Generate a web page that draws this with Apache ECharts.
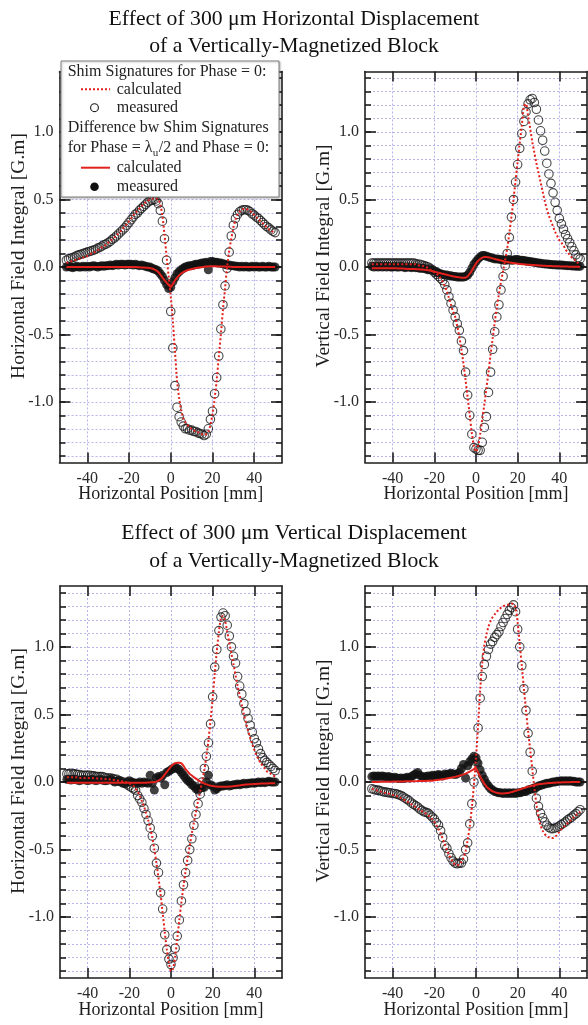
<!DOCTYPE html>
<html><head><meta charset="utf-8">
<script src="https://cdn.jsdelivr.net/npm/echarts@6.0.0/dist/echarts.min.js"></script>
<style>html,body{margin:0;padding:0;background:#fff}#c{width:588px;height:1025px}</style>
</head><body><div id="c"></div><script>
// ---------------- DATA ----------------
const POS = [-50,-49,-48,-47,-46,-45,-44,-43,-42,-41,
 -40,-39,-38,-37,-36,-35,-34,-33,-32,-31,
 -30,-29,-28,-27,-26,-25,-24,-23,-22,-21,
 -20,-19,-18,-17,-16,-15,-14,-13,-12,-11,
 -10,-9,-8,-7,-6,-5,-4,-3,-2,-1,
 0,1,2,3,4,5,6,7,8,9,
 10,11,12,13,14,15,16,17,18,19,
 20,21,22,23,24,25,26,27,28,29,
 30,31,32,33,34,35,36,37,38,39,
 40,41,42,43,44,45,46,47,48,49,50];

const X_TICKS = [-40,-20,0,20,40];
const Y_LABELS = [-1.0,-0.5,0.0,0.5,1.0];
const Y_MINOR = [-1.4,-1.3,-1.2,-1.1,-1.0,-0.9,-0.8,-0.7,-0.6,-0.5,-0.4,-0.3,-0.2,-0.1,0,
 0.1,0.2,0.3,0.4,0.5,0.6,0.7,0.8,0.9,1.0,1.1,1.2,1.3,1.4];

const TITLE_TOP = ['Effect of 300 \u03bcm Horizontal Displacement','of a Vertically-Magnetized Block'];
const TITLE_BOTTOM = ['Effect of 300 \u03bcm Vertical Displacement','of a Vertically-Magnetized Block'];
const X_NAME = 'Horizontal Position [mm]';
const Y_NAMES = ['Horizontal Field Integral [G.m]','Vertical Field Integral [G.m]','Horizontal Field Integral [G.m]','Vertical Field Integral [G.m]'];

// Panel 1: horizontal displacement, horizontal field integral
const P1_CALC0 = [0.03,0.035,0.04,0.045,0.05,0.055,0.06,0.065,0.07,0.075,
 0.08,0.09,0.10,0.105,0.115,0.125,0.135,0.145,0.155,0.165,
 0.18,0.19,0.205,0.22,0.235,0.25,0.265,0.285,0.30,0.32,
 0.34,0.36,0.38,0.40,0.415,0.435,0.45,0.465,0.48,0.49,
 0.50,0.505,0.51,0.51,0.50,0.46,0.38,0.24,0.08,-0.07,
 -0.22,-0.40,-0.62,-0.84,-0.97,-1.06,-1.12,-1.15,-1.17,-1.19,
 -1.20,-1.21,-1.22,-1.225,-1.23,-1.24,-1.245,-1.24,-1.22,-1.17,
 -1.09,-0.98,-0.84,-0.67,-0.50,-0.32,-0.16,0.0,0.12,0.21,
 0.29,0.35,0.39,0.41,0.425,0.43,0.43,0.425,0.415,0.40,
 0.385,0.37,0.355,0.34,0.325,0.31,0.295,0.28,0.27,0.26,0.25];
const P1_MEAS0 = [0.05,0.06,0.065,0.07,0.075,0.085,0.09,0.095,0.10,0.105,
 0.11,0.115,0.12,0.125,0.13,0.14,0.145,0.155,0.165,0.17,
 0.18,0.19,0.205,0.215,0.23,0.245,0.26,0.275,0.29,0.31,
 0.33,0.35,0.37,0.39,0.40,0.42,0.435,0.45,0.465,0.48,
 0.49,0.495,0.50,0.49,0.47,0.42,0.34,0.21,0.05,-0.13,
 -0.33,-0.60,-0.88,-1.04,-1.11,-1.15,-1.18,-1.20,-1.20,-1.21,
 -1.21,-1.22,-1.22,-1.23,-1.235,-1.24,-1.25,-1.24,-1.20,-1.13,
 -1.07,-0.94,-0.82,-0.66,-0.46,-0.28,-0.14,-0.01,0.11,0.23,
 0.31,0.36,0.39,0.41,0.42,0.425,0.425,0.42,0.41,0.395,
 0.385,0.37,0.36,0.345,0.33,0.315,0.30,0.29,0.275,0.265,0.255];
const P1_CALCD = [0,0,0,0,0,0,0,0,0,0,
 0,0,0,0,0,0,0,0,0,0,
 0,0,0,0,0,0,0,0,0,0,
 0,0,0,0,-0.001,-0.002,-0.003,-0.004,-0.005,-0.006,
 -0.008,-0.011,-0.017,-0.025,-0.037,-0.056,-0.078,-0.098,-0.116,-0.133,
 -0.148,-0.125,-0.10,-0.08,-0.062,-0.048,-0.038,-0.03,-0.024,-0.019,
 -0.015,-0.011,-0.008,-0.005,-0.003,-0.001,0.001,0.003,0.004,0.005,
 0.005,0.005,0.005,0.004,0.004,0.003,0.003,0.002,0.001,0.001,
 0,0,0,0,0,0,0,0,0,0,
 0,0,0,0,0,0,0,0,0,0,0];
const P1_MEASD = [0.0,0.005,0.0,-0.005,0.0,0.005,0.0,0.0,0.005,0.0,
 0.005,0.0,0.005,0.01,0.005,0.0,0.005,0.01,0.005,0.01,
 0.01,0.015,0.01,0.015,0.02,0.015,0.02,0.02,0.015,0.02,
 0.02,0.02,0.015,0.02,0.015,0.01,0.015,0.01,0.005,0.0,
 0.0,-0.01,-0.015,-0.02,-0.03,-0.05,-0.07,-0.10,-0.13,-0.16,
 -0.15,-0.11,-0.08,-0.05,-0.035,-0.02,-0.01,0.0,0.005,0.01,
 0.01,0.015,0.02,0.02,0.025,0.03,0.03,0.035,-0.02,0.04,
 0.04,0.035,0.035,0.03,0.03,0.025,0.02,0.015,0.015,0.01,
 0.01,0.005,0.005,0.0,0.005,0.0,0.005,0.0,0.0,0.005,
 0.0,0.005,0.0,0.0,0.005,0.0,0.0,0.005,0.0,0.0,0.0];

// Panel 2: horizontal displacement, vertical field integral
const P2_CALC0 = [0.02,0.02,0.02,0.02,0.02,0.02,0.02,0.02,0.02,0.02,
 0.02,0.02,0.02,0.02,0.02,0.02,0.02,0.02,0.02,0.02,
 0.02,0.02,0.015,0.01,0.01,0.005,0.0,-0.01,-0.02,-0.03,
 -0.04,-0.05,-0.065,-0.085,-0.11,-0.14,-0.18,-0.23,-0.28,-0.33,
 -0.37,-0.44,-0.52,-0.61,-0.72,-0.84,-0.97,-1.10,-1.23,-1.33,
 -1.37,-1.33,-1.24,-1.13,-1.02,-0.90,-0.78,-0.65,-0.53,-0.41,
 -0.30,-0.20,-0.11,-0.03,0.05,0.14,0.25,0.37,0.50,0.64,
 0.78,0.92,1.05,1.19,1.21,1.12,1.03,0.93,0.85,0.77,
 0.70,0.63,0.56,0.49,0.43,0.38,0.34,0.30,0.26,0.23,
 0.20,0.18,0.16,0.13,0.11,0.09,0.07,0.06,0.04,0.03,0.02];
const P2_MEAS0 = [0.03,0.03,0.03,0.03,0.03,0.03,0.03,0.03,0.03,0.03,
 0.03,0.03,0.03,0.03,0.03,0.03,0.03,0.03,0.03,0.03,
 0.03,0.025,0.02,0.02,0.015,0.01,0.005,0.0,-0.01,-0.02,
 -0.04,-0.055,-0.07,-0.085,-0.10,-0.13,-0.17,-0.22,-0.27,-0.32,
 -0.37,-0.42,-0.47,-0.55,-0.62,-0.78,-0.95,-1.10,-1.24,-1.34,
 -1.35,-1.36,-1.36,-1.30,-1.19,-1.11,-0.93,-0.78,-0.61,-0.48,
 -0.37,-0.28,-0.17,-0.07,0.01,0.10,0.22,0.37,0.50,0.63,
 0.76,0.88,0.99,1.08,1.15,1.21,1.24,1.25,1.22,1.17,
 1.09,1.01,0.94,0.86,0.77,0.69,0.62,0.55,0.48,0.42,
 0.36,0.32,0.28,0.24,0.21,0.18,0.15,0.12,0.09,0.07,0.06];
const P2_CALCD = [-0.01,-0.01,-0.01,-0.01,-0.01,-0.01,-0.01,-0.01,-0.01,-0.01,
 -0.01,-0.01,-0.01,-0.011,-0.012,-0.012,-0.013,-0.014,-0.014,-0.015,
 -0.015,-0.016,-0.017,-0.018,-0.019,-0.02,-0.022,-0.024,-0.027,-0.03,
 -0.034,-0.038,-0.042,-0.046,-0.05,-0.054,-0.058,-0.062,-0.066,-0.07,
 -0.072,-0.075,-0.077,-0.079,-0.08,-0.078,-0.068,-0.05,-0.027,0.0,
 0.025,0.045,0.06,0.07,0.075,0.075,0.072,0.068,0.064,0.06,
 0.056,0.052,0.048,0.044,0.04,0.037,0.034,0.031,0.029,0.027,
 0.025,0.023,0.021,0.02,0.018,0.017,0.016,0.015,0.014,0.013,
 0.012,0.011,0.01,0.009,0.008,0.008,0.007,0.006,0.006,0.005,
 0.005,0.004,0.004,0.003,0.003,0.002,0.002,0.002,0.001,0.001,0.0];
const P2_MEASD = [0.005,0.0,0.005,0.0,0.005,0.0,0.005,0.0,0.005,0.0,
 0.0,0.005,0.0,0.0,0.005,0.0,-0.005,0.0,0.0,-0.005,
 0.0,-0.005,-0.005,-0.01,-0.01,-0.01,-0.015,-0.02,-0.02,-0.025,
 -0.03,-0.035,-0.045,-0.05,-0.055,-0.06,-0.06,-0.065,-0.065,-0.07,
 -0.07,-0.075,-0.075,-0.075,-0.075,-0.07,-0.06,-0.04,-0.01,0.02,
 0.04,0.06,0.075,0.085,0.085,0.08,0.075,0.07,0.065,0.06,
 0.06,0.058,0.055,0.052,0.05,0.052,0.055,0.05,0.052,0.055,
 0.055,0.05,0.05,0.048,0.045,0.042,0.04,0.038,0.035,0.032,
 0.03,0.028,0.025,0.023,0.022,0.02,0.018,0.017,0.016,0.015,
 0.015,0.014,0.013,0.012,0.01,0.01,0.008,0.007,0.006,0.005,0.005];

// Panel 3: vertical displacement, horizontal field integral
const P3_CALC0 = [0.035,0.035,0.035,0.035,0.035,0.035,0.03,0.03,0.03,0.03,
 0.03,0.03,0.03,0.028,0.027,0.026,0.025,0.024,0.022,0.021,
 0.02,0.018,0.016,0.014,0.012,0.01,0.007,0.004,0.0,-0.005,
 -0.01,-0.02,-0.03,-0.05,-0.07,-0.10,-0.14,-0.18,-0.23,-0.28,
 -0.34,-0.41,-0.50,-0.60,-0.71,-0.83,-0.97,-1.11,-1.24,-1.34,
 -1.40,-1.38,-1.29,-1.16,-1.02,-0.89,-0.77,-0.66,-0.56,-0.47,
 -0.38,-0.30,-0.22,-0.14,-0.07,0.01,0.09,0.19,0.31,0.46,
 0.62,0.80,0.97,1.11,1.21,1.23,1.19,1.11,1.03,0.95,
 0.87,0.79,0.71,0.64,0.57,0.50,0.44,0.38,0.33,0.28,
 0.24,0.20,0.17,0.14,0.12,0.10,0.08,0.07,0.06,0.05,0.04];
const P3_MEAS0 = [0.06,0.06,0.065,0.06,0.06,0.055,0.055,0.05,0.05,0.05,
 0.05,0.05,0.045,0.045,0.04,0.04,0.04,0.04,0.035,0.03,
 0.03,0.03,0.025,0.02,0.02,0.01,0.005,0.0,-0.01,-0.02,
 -0.03,-0.04,-0.05,-0.06,-0.10,-0.125,-0.15,-0.195,-0.24,-0.285,
 -0.34,-0.40,-0.49,-0.60,-0.67,-0.82,-0.94,-1.13,-1.24,-1.31,
 -1.35,-1.30,-1.23,-1.14,-1.02,-0.88,-0.76,-0.67,-0.58,-0.50,
 -0.42,-0.32,-0.24,-0.16,-0.09,0.0,0.10,0.19,0.29,0.43,
 0.63,0.85,0.98,1.12,1.22,1.25,1.23,1.16,1.08,1.00,
 0.93,0.88,0.78,0.71,0.65,0.58,0.52,0.47,0.42,0.37,
 0.32,0.29,0.245,0.21,0.18,0.16,0.145,0.13,0.115,0.10,0.085];
const P3_CALCD = [-0.005,-0.005,-0.005,-0.005,-0.005,-0.005,-0.005,-0.005,-0.005,-0.005,
 -0.005,-0.005,-0.005,-0.005,-0.005,-0.005,-0.005,-0.005,-0.005,-0.005,
 -0.005,-0.005,-0.005,-0.005,-0.005,-0.005,-0.005,-0.005,-0.005,-0.005,
 -0.005,-0.005,-0.006,-0.006,-0.006,-0.006,-0.006,-0.005,-0.005,-0.004,
 -0.003,-0.002,0.0,0.003,0.01,0.02,0.035,0.055,0.075,0.095,
 0.115,0.13,0.14,0.143,0.143,0.138,0.12,0.095,0.078,0.06,
 0.048,0.036,0.025,0.014,0.004,-0.005,-0.012,-0.018,-0.023,-0.027,
 -0.03,-0.032,-0.034,-0.035,-0.036,-0.036,-0.036,-0.035,-0.034,-0.033,
 -0.031,-0.029,-0.027,-0.025,-0.023,-0.021,-0.019,-0.018,-0.017,-0.016,
 -0.015,-0.014,-0.013,-0.012,-0.012,-0.011,-0.011,-0.01,-0.01,-0.01,-0.01];
const P3_MEASD = [0.02,0.02,0.015,0.02,0.02,0.015,0.01,0.015,0.02,0.015,
 0.01,0.015,0.02,0.015,0.01,0.015,0.02,0.015,0.01,0.01,
 0.015,0.02,0.01,0.0,0.005,0.01,0.0,-0.01,-0.01,0.0,
 0.01,0.0,-0.005,-0.01,-0.01,0.0,-0.01,0.0,-0.005,-0.01,
 0.05,-0.01,-0.06,0.03,0.04,0.03,0.05,-0.02,0.07,0.08,
 0.09,0.10,0.11,0.10,0.09,0.07,0.05,0.03,0.01,0.0,
 -0.02,-0.03,-0.05,-0.06,-0.045,-0.04,-0.04,0.0,0.05,-0.02,
 -0.03,-0.06,-0.05,-0.035,-0.03,-0.03,-0.025,-0.02,-0.03,-0.025,
 -0.02,-0.02,-0.015,-0.02,-0.015,-0.01,-0.015,-0.01,-0.01,-0.005,
 -0.01,-0.005,0.0,-0.005,0.0,-0.005,0.0,0.005,0.0,0.0,0.0];

// Panel 4: vertical displacement, vertical field integral
const P4_CALC0 = [-0.05,-0.055,-0.06,-0.065,-0.07,-0.075,-0.08,-0.08,-0.085,-0.09,
 -0.095,-0.10,-0.105,-0.11,-0.12,-0.13,-0.135,-0.145,-0.155,-0.165,
 -0.175,-0.185,-0.195,-0.205,-0.215,-0.225,-0.235,-0.245,-0.26,-0.275,
 -0.295,-0.32,-0.35,-0.38,-0.42,-0.46,-0.50,-0.54,-0.57,-0.595,
 -0.61,-0.615,-0.61,-0.59,-0.56,-0.51,-0.43,-0.33,-0.19,-0.02,
 0.18,0.42,0.68,0.88,1.01,1.09,1.15,1.19,1.22,1.24,
 1.26,1.275,1.29,1.30,1.305,1.31,1.315,1.32,1.315,1.29,
 1.18,1.02,0.86,0.69,0.53,0.38,0.24,0.10,-0.04,-0.16,
 -0.26,-0.32,-0.36,-0.385,-0.40,-0.41,-0.415,-0.415,-0.405,-0.39,
 -0.37,-0.35,-0.335,-0.32,-0.305,-0.29,-0.275,-0.26,-0.245,-0.235,-0.22];
const P4_MEAS0 = [-0.05,-0.055,-0.06,-0.06,-0.065,-0.07,-0.075,-0.075,-0.08,-0.08,
 -0.085,-0.085,-0.09,-0.095,-0.10,-0.11,-0.12,-0.13,-0.14,-0.155,
 -0.165,-0.175,-0.185,-0.20,-0.21,-0.22,-0.225,-0.23,-0.245,-0.26,
 -0.275,-0.30,-0.32,-0.36,-0.41,-0.47,-0.49,-0.53,-0.56,-0.585,
 -0.60,-0.605,-0.60,-0.60,-0.57,-0.50,-0.45,-0.31,-0.16,0.0,
 0.15,0.40,0.62,0.78,0.87,0.93,0.98,1.02,1.04,1.07,
 1.09,1.11,1.15,1.18,1.21,1.24,1.27,1.29,1.31,1.26,
 1.13,1.0,0.86,0.69,0.53,0.36,0.22,0.08,-0.05,-0.12,
 -0.18,-0.23,-0.265,-0.295,-0.32,-0.335,-0.345,-0.345,-0.34,-0.335,
 -0.325,-0.315,-0.305,-0.295,-0.28,-0.27,-0.26,-0.245,-0.235,-0.22,-0.205];
const P4_CALCD = [0.0,0.0,0.0,0.0,0.001,0.001,0.001,0.002,0.002,0.002,
 0.003,0.003,0.003,0.004,0.004,0.004,0.005,0.005,0.005,0.006,
 0.006,0.006,0.007,0.007,0.007,0.008,0.008,0.009,0.009,0.01,
 0.012,0.014,0.016,0.018,0.02,0.023,0.026,0.029,0.032,0.035,
 0.038,0.042,0.046,0.051,0.056,0.062,0.069,0.077,0.086,0.095,
 0.10,0.07,0.04,0.012,-0.012,-0.032,-0.048,-0.06,-0.069,-0.075,
 -0.08,-0.083,-0.085,-0.085,-0.084,-0.082,-0.079,-0.075,-0.07,-0.065,
 -0.06,-0.055,-0.05,-0.045,-0.04,-0.035,-0.031,-0.027,-0.023,-0.02,
 -0.017,-0.015,-0.013,-0.011,-0.009,-0.008,-0.007,-0.006,-0.005,-0.004,
 -0.003,-0.003,-0.002,-0.002,-0.001,-0.001,0,0,0,0,0];
const P4_MEASD = [0.04,0.045,0.04,0.045,0.04,0.045,0.04,0.035,0.04,0.035,
 0.03,0.035,0.03,0.025,0.03,0.025,0.03,0.035,0.03,0.04,
 0.05,0.06,0.07,0.05,0.04,0.035,0.04,0.045,0.04,0.05,
 0.045,0.05,0.055,0.05,0.045,0.06,0.055,0.06,0.065,0.06,
 0.055,0.06,0.07,0.10,0.13,0.03,0.12,0.15,0.17,0.19,
 0.18,0.14,0.09,0.05,0.02,-0.01,-0.03,-0.05,-0.06,-0.07,
 -0.075,-0.08,-0.08,-0.085,-0.08,-0.085,-0.08,-0.085,-0.08,-0.085,
 -0.08,-0.08,-0.075,-0.07,-0.07,-0.06,-0.055,-0.05,-0.045,-0.04,
 -0.03,-0.025,-0.02,-0.015,-0.01,-0.01,-0.005,0.0,0.0,0.005,
 0.005,0.01,0.005,0.01,0.005,0.01,0.005,0.005,0.0,0.0,0.0];

// ---------------- STYLE / LAYOUT ----------------
const SERIF = '"Liberation Serif","Times New Roman",serif';
const RED = '#e2201c';
const INK = '#1e1e1e';
const GRID_COLOR = '#b6b6ea';
const X_LIM = 53.3, Y_LIM = 1.45;
const GRIDS = [
  {left: 59.5, top: 71.5, width: 222.5, height: 391},
  {left: 365, top: 71.5, width: 222, height: 391},
  {left: 60, top: 586, width: 222, height: 392},
  {left: 365, top: 586, width: 222, height: 392}
];

const lineSt = {color: INK, width: 1.6};
const hiddenLine = {show: false, onZero: false};
function makeX(g) {
  const base = {type: 'value', gridIndex: g, min: -X_LIM, max: X_LIM,
    axisLine: {show: true, onZero: false, lineStyle: lineSt},
    axisTick: {show: true, inside: true, length: 10, customValues: X_TICKS, lineStyle: lineSt}};
  return [
    Object.assign({}, base, {position: 'bottom', name: X_NAME, nameLocation: 'middle', nameGap: 23,
      nameMoveOverlap: false,
      nameTextStyle: {fontFamily: SERIF, fontSize: 18, color: INK},
      axisLabel: {show: true, customValues: X_TICKS, margin: 8, fontFamily: SERIF, fontSize: 16, color: '#2a2a2a'},
      splitLine: {show: true, lineStyle: {color: GRID_COLOR, width: 1, type: [2, 2]}}}),
    Object.assign({}, base, {position: 'top', axisLabel: {show: false}, splitLine: {show: false}})
  ];
}
function makeY(g) {
  const base = {type: 'value', gridIndex: g, min: -Y_LIM, max: Y_LIM,
    axisLine: {show: true, onZero: false, lineStyle: lineSt}};
  const minorTick = {show: true, inside: true, length: 6, customValues: Y_MINOR, lineStyle: lineSt};
  const majorTick = {show: true, inside: true, length: 11, customValues: Y_LABELS, lineStyle: lineSt};
  return [
    Object.assign({}, base, {position: 'left', name: Y_NAMES[g], nameLocation: 'middle', nameGap: 31,
      nameMoveOverlap: false,
      nameTextStyle: {fontFamily: SERIF, fontSize: 19.5, color: INK, padding: [0, 0, 0, 22]},
      axisTick: minorTick,
      axisLabel: {show: true, customValues: Y_LABELS, margin: 6, fontFamily: SERIF, fontSize: 16, color: '#2a2a2a',
        formatter: v => Number(v).toFixed(1)},
      splitLine: {show: true, lineStyle: {color: GRID_COLOR, width: 1, type: [2, 2]}}}),
    Object.assign({}, base, {position: 'left', axisLine: hiddenLine, axisTick: majorTick, axisLabel: {show: false}, splitLine: {show: false}}),
    Object.assign({}, base, {position: 'right', axisTick: minorTick, axisLabel: {show: false}, splitLine: {show: false}}),
    Object.assign({}, base, {position: 'right', axisLine: hiddenLine, axisTick: majorTick, axisLabel: {show: false}, splitLine: {show: false}})
  ];
}
const pairs = ys => POS.map((x, i) => [x, ys[i]]);
function makeSeries(g, calc0, meas0, calcD, measD) {
  const ax = {xAxisIndex: g * 2, yAxisIndex: g * 4};
  return [
    Object.assign({type: 'scatter', name: 'measured diff', data: pairs(measD), symbol: 'circle', symbolSize: 9,
      itemStyle: {color: '#111'}, z: 2, silent: true}, ax),
    Object.assign({type: 'scatter', name: 'measured', data: pairs(meas0), symbol: 'circle', symbolSize: 8.5,
      itemStyle: {color: 'rgba(255,255,255,0)', borderColor: '#1a1a1a', borderWidth: 1.1}, z: 3, silent: true}, ax),
    Object.assign({type: 'line', name: 'calculated', data: pairs(calc0), symbol: 'none', smooth: 0.3,
      lineStyle: {color: RED, width: 2, type: [2, 2.2]}, z: 4, silent: true}, ax),
    Object.assign({type: 'line', name: 'calculated diff', data: pairs(calcD), symbol: 'none', smooth: 0.3,
      lineStyle: {color: RED, width: 2}, z: 5, silent: true}, ax)
  ];
}

function tw(s, size) {
  const c = document.createElement('canvas').getContext('2d');
  c.font = size + 'px "Liberation Serif"';
  return c.measureText(s).width;
}
function txt(s, x, y, size) {
  size = size || 16;
  return {type: 'text', x: x, y: y, z: 101, silent: true,
    style: {text: s, fontFamily: SERIF, fontSize: size, fill: INK, align: 'left', verticalAlign: 'middle',
      textAlign: 'left', textVerticalAlign: 'middle'}};
}
const LX = 67.7;
const lam1 = 'for Phase = \u03bb';
const lam2 = '/2 and Phase = 0:';
const uX = LX + tw(lam1, 16);
const legendEls = [
  {type: 'rect', z: 100, silent: true, shape: {x: 61, y: 61, width: 218, height: 136},
    style: {fill: '#fff', stroke: '#808080', lineWidth: 1, shadowColor: 'rgba(0,0,0,0.25)', shadowBlur: 2, shadowOffsetX: 1, shadowOffsetY: 1}},
  txt('Shim Signatures for Phase = 0:', LX, 71.7),
  {type: 'line', z: 101, silent: true, shape: {x1: 81, y1: 89.3, x2: 110, y2: 89.3}, style: {stroke: RED, lineWidth: 2, lineDash: [2, 2]}},
  txt('calculated', 116.7, 89.3),
  {type: 'circle', z: 101, silent: true, shape: {cx: 94.5, cy: 107.7, r: 3.9}, style: {fill: 'rgba(0,0,0,0)', stroke: '#1a1a1a', lineWidth: 1.1}},
  txt('measured', 116.7, 107.7),
  txt('Difference bw Shim Signatures', LX, 127.7),
  txt(lam1, LX, 147.7),
  txt('u', uX + 0.3, 153.5, 11),
  txt(lam2, uX + tw('u', 11) + 0.8, 147.7),
  {type: 'line', z: 101, silent: true, shape: {x1: 81, y1: 167.7, x2: 110, y2: 167.7}, style: {stroke: RED, lineWidth: 2}},
  txt('calculated', 116.7, 167.7),
  {type: 'circle', z: 101, silent: true, shape: {cx: 94.5, cy: 186.7, r: 4.3}, style: {fill: '#111'}},
  txt('measured', 116.7, 186.7)
];

const titleStyle = {fontFamily: SERIF, fontSize: 21.7, fontWeight: 'normal', color: '#111', lineHeight: 22};
const option = {
  animation: false,
  backgroundColor: '#fff',
  textStyle: {fontFamily: SERIF},
  title: [
    {text: TITLE_TOP[0], left: 'center', top: 8.5},
    {text: TITLE_TOP[1], left: 'center', top: 35.5},
    {text: TITLE_BOTTOM[0], left: 'center', top: 522.5},
    {text: TITLE_BOTTOM[1], left: 'center', top: 550.5}
  ].map(t => Object.assign(t, {padding: 0, textStyle: titleStyle})),
  grid: GRIDS.map(g => Object.assign({containLabel: false, outerBoundsMode: 'none', show: false}, g)),
  xAxis: [].concat(makeX(0), makeX(1), makeX(2), makeX(3)),
  yAxis: [].concat(makeY(0), makeY(1), makeY(2), makeY(3)),
  series: [].concat(
    makeSeries(0, P1_CALC0, P1_MEAS0, P1_CALCD, P1_MEASD),
    makeSeries(1, P2_CALC0, P2_MEAS0, P2_CALCD, P2_MEASD),
    makeSeries(2, P3_CALC0, P3_MEAS0, P3_CALCD, P3_MEASD),
    makeSeries(3, P4_CALC0, P4_MEAS0, P4_CALCD, P4_MEASD)
  ),
  graphic: legendEls
};
const chart = echarts.init(document.getElementById('c'), null, {renderer: 'canvas', width: 588, height: 1025});
chart.setOption(option);
</script></body></html>
